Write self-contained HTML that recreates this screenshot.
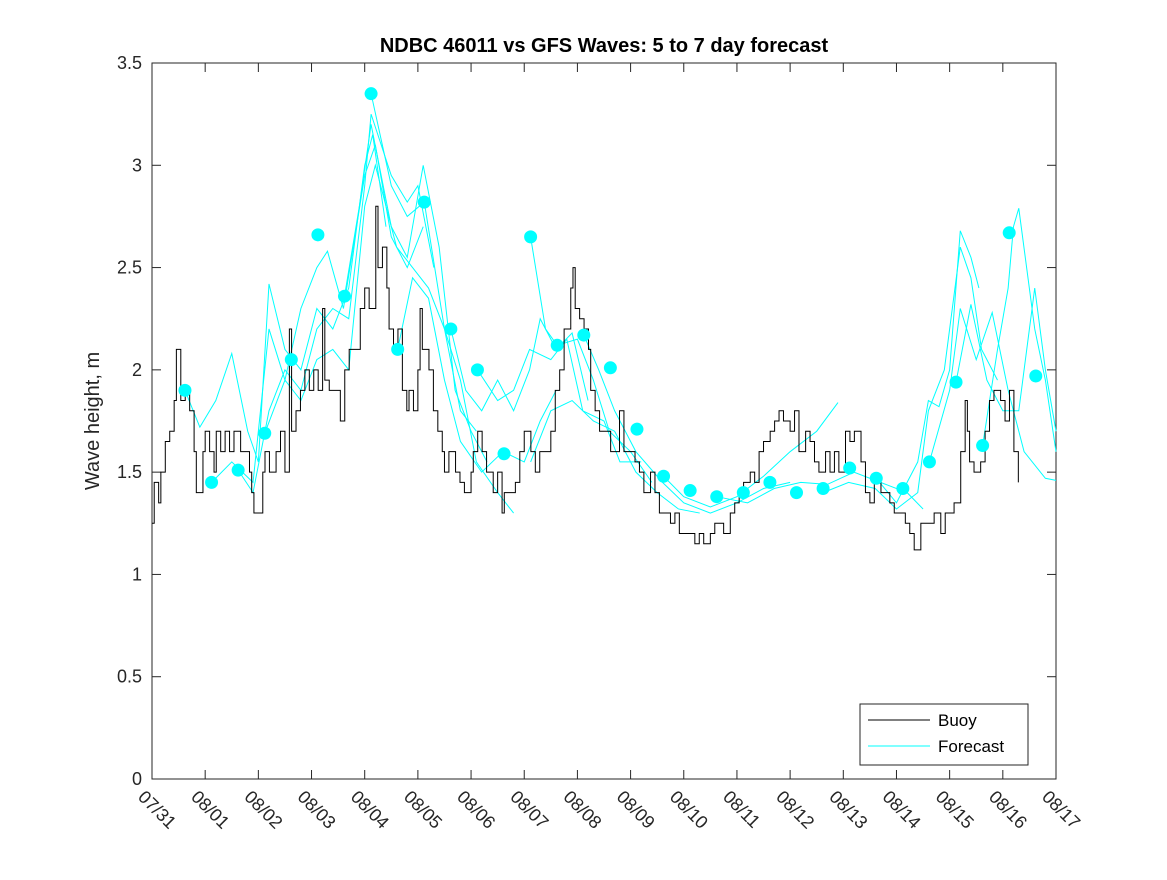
<!DOCTYPE html>
<html><head><meta charset="utf-8"><style>
body{margin:0;background:#fff;}
svg text{font-family:"Liberation Sans","DejaVu Sans",sans-serif;}
</style></head><body>
<svg id="chart" width="1167" height="875">
<rect x="0" y="0" width="1167" height="875" fill="#fff"/>
<text x="604" y="52" text-anchor="middle" font-size="20" font-weight="bold" fill="#000">NDBC 46011 vs GFS Waves: 5 to 7 day forecast</text>
<text transform="translate(99,421) rotate(-90)" text-anchor="middle" font-size="20" fill="#262626">Wave height, m</text>
<g id="axes"></g>
<g id="plot"></g>
<g>
<rect x="860" y="704" width="168" height="61" fill="#fff" stroke="#262626" stroke-width="1"/>
<line x1="868" y1="720" x2="930" y2="720" stroke="#000" stroke-width="1"/>
<text x="938" y="726" font-size="17" fill="#000">Buoy</text>
<line x1="868" y1="746" x2="930" y2="746" stroke="#00ffff" stroke-width="1"/>
<text x="938" y="752" font-size="17" fill="#000">Forecast</text>
</g>
</svg>
<script>
const dateLabels=["07/31","08/01","08/02","08/03","08/04","08/05","08/06","08/07","08/08","08/09","08/10","08/11","08/12","08/13","08/14","08/15","08/16","08/17"];
const yTicks=[0,0.5,1,1.5,2,2.5,3,3.5];
const yTickLabels=["0","0.5","1","1.5","2","2.5","3","3.5"];
const buoyHours=[0,1,3,4,6,8,10,11,13,15,17,19,20,22,23,24,26,28,29,31,33,35,37,40,42,44,45,46,48,50,51,52,53,56,58,60,62,63,65,67,69,71,73,75,77,78,80,83,85,87,89,92,94,96,98,101,102,104,106,107,109,111,113,115,116,118,120,121,122,124,125,127,129,131,132,134,137,139,141,144,145,147,149,151,153,154,156,158,159,162,164,166,168,171,173,175,177,180,182,184,186,189,190,191,193,195,197,198,200,202,204,207,209,211,213,216,218,220,222,225,227,229,231,234,236,238,240,243,245,247,249,252,254,256,258,261,263,265,267,270,272,274,276,279,281,283,285,288,290,292,295,297,299,301,304,306,308,310,313,315,317,320,322,324,326,329,331,333,335,338,340,342,344,347,349,351,353,356,358,360,362,365,367,368,369,371,374,376,378,380,383,385,387,389,391];
const buoyValues=[1.25,1.45,1.35,1.5,1.65,1.7,1.85,2.1,1.85,1.9,1.8,1.6,1.4,1.4,1.6,1.7,1.6,1.5,1.7,1.6,1.7,1.6,1.7,1.6,1.6,1.5,1.4,1.3,1.3,1.5,1.6,1.6,1.5,1.6,1.7,1.5,2.2,1.7,1.8,1.9,2.0,1.9,2.0,1.9,2.3,1.95,1.9,1.9,1.75,2.0,2.1,2.1,2.3,2.4,2.3,2.8,2.5,2.6,2.4,2.2,2.1,2.2,1.9,1.8,1.9,1.8,2.0,2.3,2.1,2.1,2.0,1.8,1.7,1.6,1.5,1.6,1.5,1.45,1.4,1.5,1.6,1.7,1.6,1.5,1.5,1.4,1.5,1.3,1.4,1.4,1.45,1.6,1.7,1.6,1.5,1.6,1.6,1.7,1.9,2.0,2.2,2.4,2.5,2.3,2.25,2.2,2.1,1.9,1.8,1.7,1.7,1.6,1.6,1.8,1.6,1.6,1.55,1.5,1.4,1.5,1.4,1.3,1.3,1.25,1.3,1.2,1.2,1.2,1.15,1.2,1.15,1.2,1.25,1.25,1.2,1.3,1.35,1.4,1.45,1.5,1.45,1.6,1.65,1.7,1.75,1.8,1.75,1.7,1.8,1.6,1.7,1.65,1.55,1.5,1.6,1.5,1.6,1.5,1.7,1.65,1.7,1.55,1.4,1.35,1.45,1.4,1.4,1.35,1.3,1.3,1.25,1.2,1.12,1.25,1.25,1.25,1.3,1.2,1.3,1.3,1.35,1.6,1.85,1.7,1.55,1.5,1.55,1.7,1.85,1.9,1.85,1.75,1.9,1.6,1.45];
const dotDays=[0.62,1.12,1.62,2.12,2.62,3.12,3.62,4.12,4.62,5.12,5.62,6.12,6.62,7.12,7.62,8.12,8.62,9.12,9.62,10.12,10.62,11.12,11.62,12.12,12.62,13.12,13.62,14.12,14.62,15.12,15.62,16.12,16.62];
const dotValues=[1.9,1.45,1.51,1.69,2.05,2.66,2.36,3.35,2.10,2.82,2.20,2.0,1.59,2.65,2.12,2.17,2.01,1.71,1.48,1.41,1.38,1.40,1.45,1.40,1.42,1.52,1.47,1.42,1.55,1.94,1.63,2.67,1.97];
const forecastRuns=[
[[0.62,1.9],[0.9,1.72],[1.2,1.85],[1.5,2.08],[1.8,1.7],[2.0,1.55],[2.2,2.42],[2.5,2.1],[2.8,2.0],[3.1,2.3],[3.4,2.2],[3.7,2.4],[4.0,3.0],[4.15,3.15],[4.4,2.7]],
[[1.12,1.45],[1.5,1.55],[1.9,1.45],[2.2,2.2],[2.5,1.95],[2.8,2.3],[3.1,2.5],[3.3,2.58],[3.6,2.3],[4.0,2.95],[4.2,3.1],[4.5,2.65],[4.8,2.5],[5.1,2.7]],
[[1.62,1.51],[1.9,1.4],[2.2,1.8],[2.5,2.0],[2.8,1.9],[3.1,2.2],[3.4,2.3],[3.7,2.25],[4.0,2.9],[4.12,3.25],[4.5,2.95],[4.8,2.82],[5.0,2.9],[5.3,2.5]],
[[2.12,1.69],[2.5,1.95],[2.8,1.85],[3.1,2.05],[3.4,2.1],[3.7,2.0],[4.0,2.8],[4.2,3.0],[4.6,2.6],[4.9,2.5],[5.2,2.4],[5.5,2.2],[5.8,1.8],[6.1,1.7]],
[[3.62,2.36],[3.9,2.8],[4.12,3.2],[4.5,2.7],[4.8,2.55],[5.1,3.0],[5.4,2.6],[5.7,1.9],[6.0,1.7],[6.3,1.55]],
[[4.12,3.35],[4.5,2.9],[4.8,2.75],[5.12,2.82],[5.5,2.2],[5.8,1.95],[6.1,1.55],[6.5,1.4],[6.8,1.3]],
[[4.62,2.1],[4.9,2.45],[5.2,2.35],[5.5,1.95],[5.8,1.65],[6.2,1.5],[6.6,1.6],[7.0,1.55],[7.3,1.75],[7.6,1.9]],
[[5.62,2.2],[5.9,1.9],[6.2,1.8],[6.5,1.95],[6.8,1.8],[7.1,2.0],[7.3,2.25],[7.6,2.1],[7.9,2.18],[8.2,1.85]],
[[6.12,2.0],[6.5,1.85],[6.8,1.9],[7.1,2.1],[7.5,2.05],[7.8,2.15],[8.1,1.8],[8.5,1.75],[8.8,1.55],[9.2,1.55]],
[[7.12,2.65],[7.4,2.2],[7.62,2.12],[8.0,2.15],[8.3,1.95],[8.6,1.7],[9.0,1.6],[9.4,1.45]],
[[7.12,1.55],[7.5,1.8],[7.9,1.85],[8.3,1.75],[8.7,1.7],[9.1,1.5],[9.5,1.4],[9.9,1.32],[10.3,1.3]],
[[8.12,2.17],[8.4,2.0],[8.7,1.8],[9.1,1.6],[9.6,1.45],[10.0,1.35],[10.5,1.3],[11.0,1.35],[11.5,1.42],[12.0,1.45]],
[[9.62,1.48],[10.0,1.38],[10.5,1.33],[11.0,1.38],[11.5,1.48],[12.0,1.6],[12.5,1.7],[12.9,1.84]],
[[10.62,1.38],[11.2,1.35],[11.7,1.42],[12.2,1.45],[12.7,1.44],[13.2,1.5],[13.7,1.45],[14.2,1.4],[14.5,1.32]],
[[12.62,1.40],[13.1,1.45],[13.6,1.42],[14.0,1.32],[14.4,1.4],[14.6,1.8],[14.9,2.0],[15.2,2.6],[15.4,2.45],[15.6,2.1],[15.9,1.95]],
[[13.62,1.47],[14.0,1.35],[14.4,1.55],[14.6,1.85],[14.8,1.82],[15.0,2.0],[15.2,2.68],[15.4,2.55],[15.55,2.4]],
[[14.62,1.55],[15.0,1.9],[15.2,2.3],[15.5,2.05],[15.8,2.28],[16.1,1.9],[16.4,1.6],[16.8,1.47],[17,1.46]],
[[15.12,1.94],[15.4,2.32],[15.7,1.95],[16.0,1.8],[16.3,1.8],[16.6,2.4],[16.8,2.0],[17.0,1.7]],
[[15.62,1.63],[15.9,2.1],[16.1,2.4],[16.2,2.7],[16.3,2.79],[16.6,2.2],[16.8,1.95],[17,1.6]]
];
const NS="http://www.w3.org/2000/svg";
const X0=152,X1=1056,Y0=779,Y1=63,DAYS=17,YMAX=3.5;
function xs(d){return X0+(X1-X0)*d/DAYS;}
function ys(v){return Y0-(Y0-Y1)*v/YMAX;}
function mk(tag,attrs,parent){const e=document.createElementNS(NS,tag);for(const k in attrs)e.setAttribute(k,attrs[k]);parent.appendChild(e);return e;}
const axes=document.getElementById('axes'),plot=document.getElementById('plot');
const box=mk('rect',{x:X0,y:Y1,width:X1-X0,height:Y0-Y1,fill:'none',stroke:'#262626','stroke-width':1},axes);


yTicks.forEach((v,i)=>{
  const y=ys(v);
  mk('line',{x1:X0,y1:y,x2:X0+9,y2:y,stroke:'#262626'},axes);
  mk('line',{x1:X1,y1:y,x2:X1-9,y2:y,stroke:'#262626'},axes);
  const t=mk('text',{x:X0-10,y:y+6,'text-anchor':'end','font-size':18,fill:'#262626'},axes);
  t.textContent=yTickLabels[i];
  
  
});
dateLabels.forEach((lab,i)=>{
  const x=xs(i);
  mk('line',{x1:x,y1:Y0,x2:x,y2:Y0-9,stroke:'#262626'},axes);
  mk('line',{x1:x,y1:Y1,x2:x,y2:Y1+9,stroke:'#262626'},axes);
  const t=mk('text',{x:0,y:0,transform:`translate(${x-15},${Y0+19}) rotate(45)`,'font-size':18,fill:'#262626'},axes);
  t.textContent=lab;
  
  
});
forecastRuns.forEach(run=>{
  const p=mk('polyline',{points:run.map(q=>xs(q[0])+','+ys(q[1])).join(' '),fill:'none',stroke:'#00ffff','stroke-width':1},plot);
  
  
});
let pts=[];
buoyValues.forEach((v,i)=>{
  const d0=buoyHours[i]/24;
  if(i>0) pts.push(xs(d0)+','+ys(buoyValues[i-1]));
  pts.push(xs(d0)+','+ys(v));
});
const bl=mk('polyline',{points:pts.join(' '),fill:'none',stroke:'#000','stroke-width':1},plot);


dotDays.forEach((d,i)=>{
  const c=mk('circle',{cx:xs(d),cy:ys(dotValues[i]),r:6.5,fill:'#00ffff'},plot);
  
  
});
</script>
</body></html>
